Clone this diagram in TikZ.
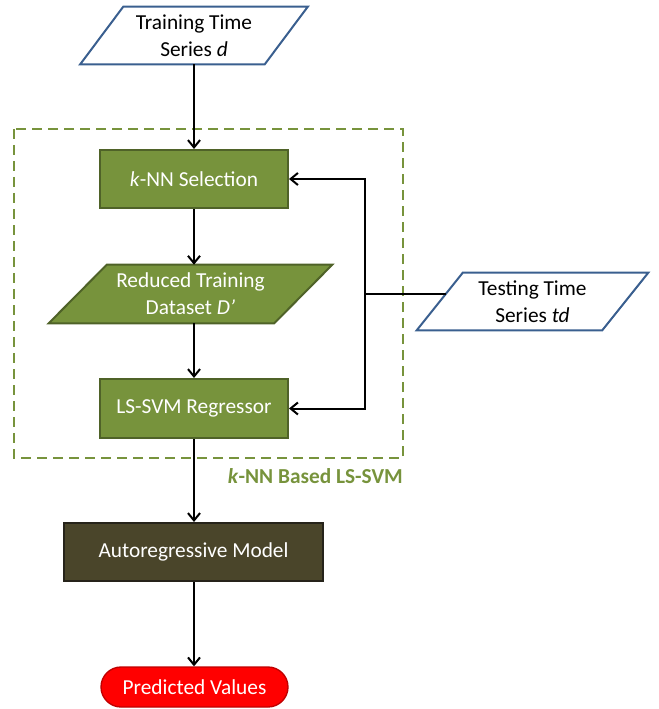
\documentclass[tikz,border=0pt]{standalone}
\usepackage{fontspec}
\setmainfont{Carlito}
\usetikzlibrary{arrows.meta}
\definecolor{olive}{HTML}{77933C}
\definecolor{olivedark}{HTML}{4F6228}
\definecolor{pblue}{HTML}{3A5F8F}
\definecolor{armod}{HTML}{4A452A}
\definecolor{armodd}{HTML}{26231A}
\definecolor{predred}{HTML}{FF0000}
\definecolor{predredd}{HTML}{C00000}
\pgfdeclarelayer{background}
\pgfsetlayers{background,main}
\tikzset{
  txt/.style={inner sep=0pt, align=center, font=\fontsize{16}{20}\selectfont},
  greenbox/.style={txt, rectangle, fill=olive, draw=olivedark, line width=1.5pt, text=white},
  arr/.style={line width=1.5pt, -{Straight Barb[length=5.5pt,width=9pt,line width=1.5pt]}},
  plain/.style={line width=1.5pt},
}
\begin{document}
\begin{tikzpicture}[x=0.75pt,y=-0.75pt]
\useasboundingbox (0,0) rectangle (658,709);
% dashed frame
\draw[olive, line width=1.5pt, dash pattern=on 7.5pt off 4.5pt] (14,129) rectangle (403,458);
\node[anchor=base east, inner sep=0pt, text=olive, font=\fontsize{16}{20}\selectfont\bfseries] (lbl) at (403,483) {\textit{k}-NN Based LS-SVM};
% nodes
\node[txt, minimum width=170.25pt, minimum height=42.75pt] (train) at (194,35.5) {Training Time\\Series \textit{d}};
\node[greenbox, minimum width=141pt, minimum height=43.5pt] (knn) at (194,179) {\textit{k}-NN Selection};
\node[txt, text=white, minimum width=212.25pt, minimum height=43.5pt] (red) at (190.5,294) {Reduced Training\\Dataset \textit{D'}};
\node[txt, minimum width=173.25pt, minimum height=42.75pt] (test) at (532.5,301.5) {Testing Time\\Series \textit{td}};
\node[greenbox, minimum width=141pt, minimum height=44.25pt] (lssvm) at (194,408.5) {LS-SVM Regressor};
\node[txt, rectangle, fill=armod, draw=armodd, line width=1.5pt, text=white, minimum width=194.25pt, minimum height=43.5pt] (auto) at (193.5,552) {Autoregressive Model};
\node[txt, rectangle, rounded corners=15pt, fill=predred, draw=predredd, line width=1pt, text=white, minimum width=140.25pt, minimum height=30pt] (pred) at (194.5,687) {Predicted Values};
% parallelogram outlines
\begin{pgfonlayer}{background}
\draw[pblue, line width=1.5pt, fill=white] ([xshift=32.25pt]train.north west) -- (train.north east) -- ([xshift=-32.25pt]train.south east) -- (train.south west) -- cycle;
\draw[olivedark, line width=1.5pt, fill=olive] ([xshift=43.5pt]red.north west) -- (red.north east) -- ([xshift=-43.5pt]red.south east) -- (red.south west) -- cycle;
\draw[pblue, line width=1.5pt, fill=white] ([xshift=34.5pt]test.north west) -- (test.north east) -- ([xshift=-34.5pt]test.south east) -- (test.south west) -- cycle;
\end{pgfonlayer}
% connectors
\coordinate (jn) at (365,294);
\coordinate (tin) at (446,294);
\draw[arr] (train.south) -- (knn.north);
\draw[arr] (knn.south) -- (knn.south |- red.north);
\draw[arr] (knn.south |- red.south) -- (lssvm.north);
\draw[arr] (lssvm.south) -- (lssvm.south |- auto.north);
\draw[arr] (lssvm.south |- auto.south) -- (lssvm.south |- pred.north);
\draw[plain] (tin) -- (jn);
\draw[arr] (jn) |- (knn.east);
\draw[arr] (jn) |- (lssvm.east);
\end{tikzpicture}
\end{document}
